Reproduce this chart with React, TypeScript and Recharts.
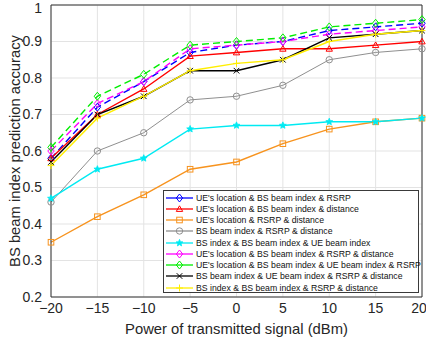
import { CartesianGrid, Legend, Line, LineChart, ReferenceLine, XAxis, YAxis } from "recharts";

const power = [-20, -15, -10, -5, 0, 5, 10, 15, 20];
const xTicks = [-20, -15, -10, -5, 0, 5, 10, 15, 20];
const yTicks = [0.2, 0.3, 0.4, 0.5, 0.6, 0.7, 0.8, 0.9, 1];

const ueBsRsrp = [0.58, 0.72, 0.79, 0.87, 0.89, 0.9, 0.93, 0.94, 0.95];
const ueBsDist = [0.58, 0.7, 0.77, 0.86, 0.87, 0.88, 0.88, 0.89, 0.9];
const ueRsrpDist = [0.35, 0.42, 0.48, 0.55, 0.57, 0.62, 0.66, 0.68, 0.69];
const bsRsrpDist = [0.46, 0.6, 0.65, 0.74, 0.75, 0.78, 0.85, 0.87, 0.88];
const bsBsUe = [0.47, 0.55, 0.58, 0.66, 0.67, 0.67, 0.68, 0.68, 0.69];
const ueBsRsrpDist = [0.6, 0.73, 0.79, 0.88, 0.89, 0.9, 0.92, 0.93, 0.94];
const ueBsUeRsrp = [0.61, 0.75, 0.81, 0.89, 0.9, 0.91, 0.94, 0.95, 0.96];
const bsUeRsrpDist = [0.57, 0.7, 0.75, 0.82, 0.82, 0.85, 0.91, 0.92, 0.93];
const bsBsRsrpDist = [0.56, 0.69, 0.75, 0.82, 0.84, 0.85, 0.9, 0.92, 0.93];

const series = [
  { key: "ueBsRsrp", values: ueBsRsrp, name: "UE's location & BS beam index & RSRP", color: "#0000ff", marker: "diamond", dashed: true },
  { key: "ueBsDist", values: ueBsDist, name: "UE's location & BS beam index & distance", color: "#ff0000", marker: "triangle", dashed: false },
  { key: "ueRsrpDist", values: ueRsrpDist, name: "UE's location & RSRP & distance", color: "#f7931e", marker: "square", dashed: false },
  { key: "bsRsrpDist", values: bsRsrpDist, name: "BS beam index & RSRP & distance", color: "#8f8f8f", marker: "circle", dashed: false },
  { key: "bsBsUe", values: bsBsUe, name: "BS index & BS beam index & UE beam index", color: "#00eaf2", marker: "star", dashed: false },
  { key: "ueBsRsrpDist", values: ueBsRsrpDist, name: "UE's location & BS beam index & RSRP & distance", color: "#ff00ff", marker: "diamond", dashed: true },
  { key: "ueBsUeRsrp", values: ueBsUeRsrp, name: "UE's location & BS beam index & UE beam index & RSRP", color: "#00ee00", marker: "diamond", dashed: true },
  { key: "bsUeRsrpDist", values: bsUeRsrpDist, name: "BS beam index & UE beam index & RSRP & distance", color: "#000000", marker: "x", dashed: false },
  { key: "bsBsRsrpDist", values: bsBsRsrpDist, name: "BS index & BS beam index & RSRP & distance", color: "#ffee00", marker: "plus", dashed: false },
];

const data = power.map((p, i) => {
  const row: Record<string, number> = { power: p };
  series.forEach((s) => (row[s.key] = s.values[i]));
  return row;
});

const font = "'Liberation Sans', Arial, Helvetica, sans-serif";

function Marker({ cx, cy, kind, color }: { cx: number; cy: number; kind: string; color: string }) {
  const r = 3.2;
  const common = { fill: "none", stroke: color, strokeWidth: 1 };
  if (kind === "diamond")
    return <path d={`M${cx},${cy - r - 0.8}L${cx + r},${cy}L${cx},${cy + r + 0.8}L${cx - r},${cy}Z`} {...common} />;
  if (kind === "triangle")
    return <path d={`M${cx},${cy - r}L${cx + r},${cy + r * 0.75}L${cx - r},${cy + r * 0.75}Z`} {...common} />;
  if (kind === "square") return <rect x={cx - 2.8} y={cy - 2.8} width={5.6} height={5.6} {...common} />;
  if (kind === "circle") return <circle cx={cx} cy={cy} r={r} {...common} />;
  if (kind === "star") {
    const pts: string[] = [];
    for (let k = 0; k < 10; k++) {
      const a = (Math.PI / 5) * k - Math.PI / 2;
      const rr = k % 2 === 0 ? 3.6 : 1.6;
      pts.push(`${cx + rr * Math.cos(a)},${cy + rr * Math.sin(a)}`);
    }
    return <polygon points={pts.join(" ")} fill={color} stroke={color} strokeWidth={0.8} />;
  }
  if (kind === "x")
    return <path d={`M${cx - 2.8},${cy - 2.8}L${cx + 2.8},${cy + 2.8}M${cx - 2.8},${cy + 2.8}L${cx + 2.8},${cy - 2.8}`} {...common} />;
  return <path d={`M${cx - 3.5},${cy}L${cx + 3.5},${cy}M${cx},${cy - 3.5}L${cx},${cy + 3.5}`} {...common} />;
}

function LegendBox() {
  return (
    <div
      style={{
        background: "#fff",
        border: "1px solid #3a3a3a",
        width: 256,
        height: 103,
        boxSizing: "border-box",
        padding: "1px 0 0 1px",
        fontFamily: font,
        fontSize: 8.7,
        color: "#111",
      }}
    >
      {series.map((s) => (
        <div key={s.key} style={{ display: "flex", alignItems: "center", height: 11.25, whiteSpace: "nowrap" }}>
          <svg width={30} height={10} style={{ flex: "none" }}>
            <line x1={1} y1={5} x2={28} y2={5} stroke={s.color} strokeWidth={1.3} />
            <Marker cx={14.5} cy={5} kind={s.marker} color={s.color} />
          </svg>
          <span style={{ marginLeft: 1 }}>{s.name}</span>
        </div>
      ))}
    </div>
  );
}

const fmt = (v: number) => (v < 0 ? `\u2212${-v}` : `${v}`);

function YLabel() {
  return (
    <text
      x={15}
      y={151}
      transform="rotate(-90 15 151)"
      textAnchor="middle"
      dominantBaseline="central"
      fill="#262626"
      fontSize={14.8}
      fontFamily={font}
    >
      BS beam index prediction accuracy
    </text>
  );
}

export default function App() {
  return (
    <div style={{ position: "absolute", left: 0, top: 0, width: 426, height: 343, background: "#fff" }}>
      <LineChart width={426} height={343} data={data} margin={{ top: 5, right: 4, left: 0, bottom: 0 }}>
        <CartesianGrid stroke="#e3e3e3" strokeWidth={1} />
        <XAxis
          type="number"
          dataKey="power"
          domain={[-20, 20]}
          ticks={xTicks}
          tickFormatter={fmt}
          height={46}
          stroke="#333"
          tickLine={false}
          tickMargin={0}
          tick={{ fill: "#262626", fontSize: 14, fontFamily: font }}
          label={{ value: "Power of transmitted signal (dBm)", position: "insideBottom", offset: 9, fill: "#262626", fontSize: 14.8, fontFamily: font }}
        />
        <YAxis
          type="number"
          domain={[0.2, 1]}
          ticks={yTicks}
          tickFormatter={(v: number) => (v === 1 ? "1" : v.toFixed(1))}
          width={51}
          stroke="#333"
          tickLine={false}
          tickMargin={3}
          tick={{ fill: "#262626", fontSize: 14, fontFamily: font }}
          label={{ content: () => <YLabel /> }}
        />
        <ReferenceLine y={1} stroke="#333" />
        <ReferenceLine x={20} stroke="#333" />
        {series.map((s) => (
          <Line
            key={s.key}
            dataKey={s.key}
            name={s.name}
            stroke={s.color}
            strokeWidth={s.key === "bsRsrpDist" ? 1 : 1.4}
            strokeDasharray={s.dashed ? "7 4" : undefined}
            isAnimationActive={false}
            dot={(p: any) => <Marker key={`${s.key}-${p.index}`} cx={p.cx} cy={p.cy} kind={s.marker} color={s.color} />}
          />
        ))}
        <Legend
          layout="vertical"
          align="center"
          verticalAlign="middle"
          content={() => <LegendBox />}
          wrapperStyle={{ position: "absolute", left: 163, top: 190, width: 256, height: 103 }}
        />
      </LineChart>
    </div>
  );
}
